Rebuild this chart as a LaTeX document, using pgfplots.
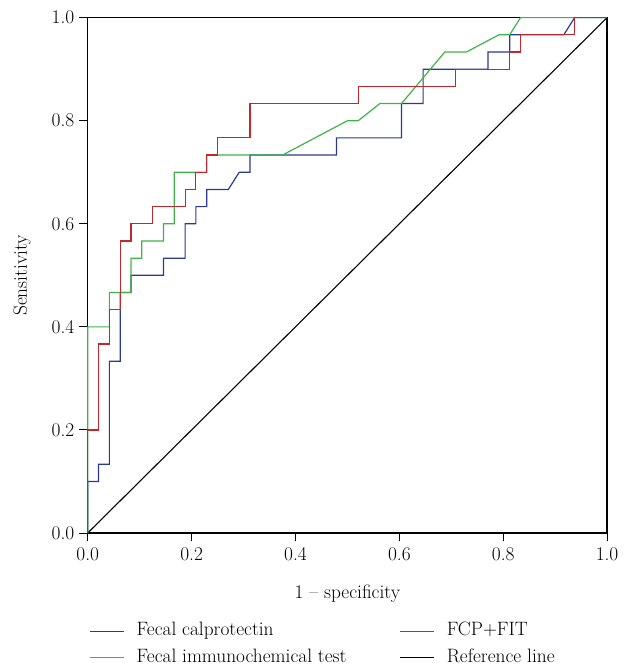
\documentclass[border=0pt]{standalone}
\usepackage{fontspec}
\usepackage{pgfplots}
\pgfplotsset{compat=1.18}
\definecolor{fcpblue}{RGB}{43,57,144}
\definecolor{fitgreen}{RGB}{61,179,74}
\definecolor{combred}{RGB}{193,39,45}
\newcommand{\lbl}{\fontsize{19.5}{22}\selectfont}
\begin{document}
\begin{tikzpicture}
\begin{axis}[
    width=521bp, height=517bp, scale only axis, clip=false,
    xmin=0, xmax=1, ymin=0, ymax=1,
    xtick={0,0.2,...,1.0}, ytick={0,0.2,...,1.0},
    /pgf/number format/assume math mode=true,
    xticklabel style={yshift=-3bp, /pgf/number format/.cd,fixed,fixed zerofill,precision=1},
    yticklabel style={xshift=-1.5bp, /pgf/number format/.cd,fixed,fixed zerofill,precision=1},
    tick label style={font=\lbl},
    label style={font=\lbl},
    tick align=outside, tick pos=left,
    major tick length=8.5bp,
    axis line style={line width=1.2pt},
    every tick/.style={black, line width=1pt},
    xlabel={1 -- specificity}, ylabel={Sensitivity},
    xlabel style={at={(axis description cs:0.5,-0.1271)}, anchor=base},
    ylabel style={at={(axis description cs:-0.1171,0.5)}, anchor=base},
    legend columns=2,
    legend style={at={(axis description cs:0.0038,-0.1716)}, anchor=north west,
        draw=none, fill=none, font=\lbl, inner sep=0pt,
        row sep=7.5bp,
        nodes={inner sep=0pt, text height=14bp, text depth=5bp},
        /tikz/every even column/.style={column sep=0bp}},
    legend cell align=left,
    legend image code/.code={\draw[#1] (0bp,0bp) -- (34bp,0bp); \path (46bp,0bp);},
]
\addlegendimage{fcpblue, line width=1pt}
\addlegendentry{\makebox[264bp][l]{Fecal calprotectin}}
\addlegendimage{combred, line width=1pt}
\addlegendentry{FCP+FIT}
\addlegendimage{fitgreen, line width=1pt}
\addlegendentry{\makebox[264bp][l]{Fecal immunochemical test}}
\addlegendimage{black, line width=1pt}
\addlegendentry{Reference line}
% reference line
\addplot[black, line width=1.1pt, forget plot] coordinates {(0,0) (1,1)};
% FCP
\addplot[fcpblue, line width=1.2pt, forget plot] coordinates {
(0,0)(0,0.1)(0.0208,0.1)(0.0208,0.1333)(0.0417,0.1333)(0.0417,0.3333)(0.0625,0.3333)
(0.0625,0.4667)(0.0833,0.4667)(0.0833,0.5)(0.1458,0.5)(0.1458,0.5333)(0.1875,0.5333)
(0.1875,0.6)(0.2083,0.6)(0.2083,0.6333)(0.2292,0.6333)(0.2292,0.6667)(0.2708,0.6667)
(0.2917,0.7)(0.3125,0.7)(0.3125,0.7333)(0.4792,0.7333)(0.4792,0.7667)(0.6042,0.7667)
(0.6042,0.8333)(0.6458,0.8333)(0.6458,0.9)(0.7708,0.9)(0.7708,0.9333)(0.8125,0.9333)
(0.8125,0.9667)(0.9167,0.9667)(0.9375,1)(1,1)};
% FIT
\addplot[fitgreen, line width=1.2pt, forget plot] coordinates {
(0,0)(0,0.4)(0.0417,0.4)(0.0417,0.4667)(0.0833,0.4667)(0.0833,0.5333)(0.1042,0.5333)
(0.1042,0.5667)(0.1458,0.5667)(0.1458,0.6)(0.1667,0.6)(0.1667,0.7)(0.2292,0.7)
(0.2292,0.7333)(0.375,0.7333)(0.5,0.8)(0.5208,0.8)(0.5625,0.8333)(0.6042,0.8333)
(0.6875,0.9333)(0.7292,0.9333)(0.7917,0.9667)(0.8125,0.9667)(0.8333,1)(1,1)};
% FCP+FIT
\addplot[combred, line width=1.2pt, forget plot] coordinates {
(0,0)(0,0.2)(0.0208,0.2)(0.0208,0.3667)(0.0417,0.3667)(0.0417,0.4333)(0.0625,0.4333)
(0.0625,0.5667)(0.0833,0.5667)(0.0833,0.6)(0.125,0.6)(0.125,0.6333)(0.1875,0.6333)
(0.1875,0.6667)(0.2083,0.6667)(0.2083,0.7)(0.2292,0.7)(0.2292,0.7333)(0.25,0.7333)
(0.25,0.7667)(0.3125,0.7667)(0.3125,0.8333)(0.5208,0.8333)(0.5208,0.8667)(0.7083,0.8667)
(0.7083,0.9)(0.8125,0.9)(0.8125,0.9333)(0.8333,0.9333)(0.8333,0.9667)(0.9375,0.9667)
(0.9375,1)(1,1)};
\coordinate (ll) at (rel axis cs:0,0);
\coordinate (ur) at (rel axis cs:1,1);
\end{axis}
\path (ll) ++(-88bp,-132.7bp) (ur) ++(26bp,17.7bp);
\end{tikzpicture}
\end{document}
